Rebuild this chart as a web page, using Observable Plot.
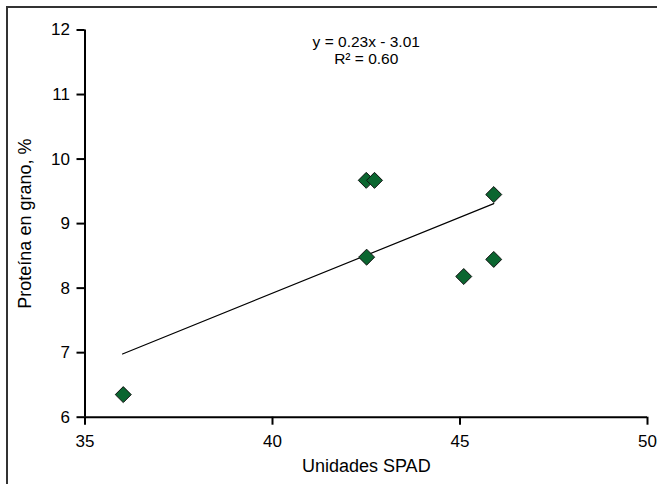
<!DOCTYPE html>
<html>
<head>
<meta charset="utf-8">
<script src="https://cdn.jsdelivr.net/npm/d3@7"></script>
<script src="https://cdn.jsdelivr.net/npm/@observablehq/plot@0.6"></script>
<style>
  html, body { margin: 0; padding: 0; background: #fff; overflow: hidden; }
  #wrap { position: relative; width: 657px; height: 484px; overflow: hidden; }
  #frame { position: absolute; left: 6px; top: 6px; width: 700px; height: 600px; border: 2px solid #333; box-sizing: border-box; pointer-events: none; }
  #chart { position: absolute; left: 0; top: 0; }
</style>
</head>
<body>
<div id="wrap"><div id="chart"></div><div id="frame"></div></div>
<script>
// Data
const spad    = [36.02, 42.5, 42.72, 45.9, 42.51, 45.1, 45.9];
const protein = [6.35, 9.67, 9.67, 9.45, 8.48, 8.18, 8.445];
const trendX  = [36.0, 45.9];
const trendY  = [6.98, 9.31];
const xTicks  = [35, 40, 45, 50];
const yTicks  = [6, 7, 8, 9, 10, 11, 12];
const xTitle  = "Unidades SPAD";
const yTitle  = "Proteína en grano, %";
const equationLines = ["y = 0.23x - 3.01", "R² = 0.60"];

const points = spad.map((x, i) => ({x, y: protein[i]}));
const trend = trendX.map((x, i) => ({x, y: trendY[i]}));

const chart = Plot.plot({
  width: 657,
  height: 484,
  marginLeft: 84.5,
  marginRight: 10,
  marginTop: 29.5,
  marginBottom: 67.3,
  style: {fontFamily: "'Liberation Sans', Arial, sans-serif", fontSize: "17px", color: "black", background: "transparent"},
  x: {domain: [35, 50]},
  y: {domain: [6, 12]},
  marks: [
    Plot.axisX({ticks: xTicks, tickSize: 8, tickPadding: 10, strokeWidth: 2, fontSize: 17, label: null, tickFormat: d => String(d)}),
    Plot.axisY({ticks: yTicks, tickSize: 8, tickPadding: 7, strokeWidth: 2, fontSize: 17, label: null, tickFormat: d => String(d)}),
    Plot.ruleY([6], {stroke: "black", strokeWidth: 2}),
    Plot.ruleX([35], {stroke: "black", strokeWidth: 2}),
    Plot.line(trend, {x: "x", y: "y", stroke: "black", strokeWidth: 1.2}),
    Plot.dot(points, {x: "x", y: "y", symbol: "diamond2", r: 7.2, fill: "#0b6630", stroke: "#111", strokeWidth: 1}),
    Plot.text([equationLines.join("\n")], {frameAnchor: "top", dy: 4.5, lineAnchor: "top", fontSize: 15.5, lineHeight: 1.12, fill: "black"}),
    Plot.text([xTitle], {frameAnchor: "bottom", dy: 48.8, lineAnchor: "middle", fontSize: 18, fill: "black"}),
    Plot.text([yTitle], {frameAnchor: "left", dx: -60, rotate: -90, textAnchor: "middle", lineAnchor: "middle", fontSize: 18, fill: "black"})
  ]
});
document.getElementById("chart").appendChild(chart);
</script>
</body>
</html>
